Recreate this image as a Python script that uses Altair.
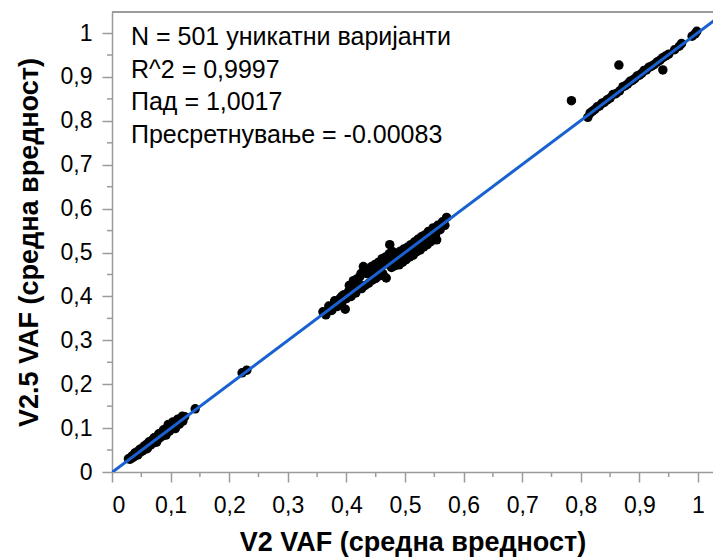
import altair as alt
import pandas as pd

# ---- data ----
low_x = [0.028, 0.031, 0.034, 0.036, 0.038, 0.040, 0.042, 0.044, 0.046, 0.048,
         0.050, 0.052, 0.054, 0.056, 0.058, 0.060, 0.062, 0.064, 0.066, 0.068,
         0.070, 0.072, 0.074, 0.076, 0.078, 0.080, 0.082, 0.084, 0.086, 0.088,
         0.090, 0.092, 0.094, 0.096, 0.098, 0.100, 0.103, 0.106, 0.109, 0.112,
         0.115, 0.118, 0.121, 0.124, 0.142, 0.222, 0.230]
low_y = [0.030, 0.029, 0.036, 0.033, 0.041, 0.037, 0.045, 0.040, 0.049, 0.045,
         0.053, 0.048, 0.057, 0.052, 0.055, 0.064, 0.058, 0.068, 0.062, 0.072,
         0.066, 0.077, 0.070, 0.080, 0.074, 0.085, 0.078, 0.089, 0.082, 0.094,
         0.086, 0.098, 0.090, 0.108, 0.093, 0.104, 0.099, 0.112, 0.104, 0.115,
         0.109, 0.122, 0.116, 0.126, 0.144, 0.226, 0.232]
low2_x = [0.040, 0.048, 0.056, 0.064, 0.072, 0.080, 0.088, 0.096, 0.104, 0.112,
          0.120, 0.044, 0.060, 0.076, 0.092, 0.108]
low2_y = [0.044, 0.052, 0.060, 0.069, 0.078, 0.087, 0.096, 0.106, 0.114, 0.120,
          0.127, 0.039, 0.053, 0.068, 0.084, 0.099]

mid_x = [0.360, 0.365, 0.370, 0.375, 0.380, 0.384, 0.388, 0.392, 0.396, 0.398,
         0.400, 0.404, 0.408, 0.412, 0.416, 0.420, 0.423, 0.426, 0.429, 0.432,
         0.435, 0.438, 0.441, 0.444, 0.447, 0.450, 0.453, 0.456, 0.459, 0.462,
         0.465, 0.468, 0.471, 0.474, 0.477, 0.480, 0.483, 0.486, 0.489, 0.492,
         0.495, 0.498, 0.501, 0.504, 0.507, 0.510, 0.513, 0.516, 0.519, 0.522,
         0.525, 0.528, 0.531, 0.534, 0.537, 0.540, 0.544, 0.548, 0.552, 0.554,
         0.556, 0.560, 0.564, 0.568, 0.571]
mid_y = [0.365, 0.358, 0.378, 0.368, 0.386, 0.377, 0.394, 0.385, 0.404, 0.371,
         0.395, 0.412, 0.400, 0.420, 0.408, 0.432, 0.445, 0.418, 0.468, 0.425,
         0.452, 0.430, 0.460, 0.437, 0.462, 0.441, 0.470, 0.447, 0.474, 0.452,
         0.478, 0.442, 0.486, 0.518, 0.466, 0.492, 0.470, 0.497, 0.476, 0.503,
         0.482, 0.508, 0.488, 0.512, 0.494, 0.518, 0.500, 0.524, 0.505, 0.530,
         0.512, 0.536, 0.518, 0.540, 0.523, 0.548, 0.530, 0.556, 0.540, 0.529,
         0.562, 0.552, 0.570, 0.562, 0.580]
mid2_x = [0.405, 0.412, 0.418, 0.425, 0.431, 0.437, 0.443, 0.449, 0.455, 0.461,
          0.467, 0.473, 0.479, 0.490, 0.496, 0.502, 0.508, 0.514, 0.520, 0.526,
          0.532, 0.538, 0.544, 0.550, 0.380, 0.392, 0.446, 0.458, 0.470, 0.484,
          0.515, 0.545]
mid2_y = [0.425, 0.436, 0.440, 0.452, 0.456, 0.462, 0.468, 0.473, 0.478, 0.486,
          0.490, 0.497, 0.502, 0.472, 0.478, 0.484, 0.490, 0.494, 0.502, 0.506,
          0.513, 0.518, 0.525, 0.534, 0.390, 0.400, 0.450, 0.462, 0.474, 0.488,
          0.520, 0.550]

high_x = [0.784, 0.812, 0.816, 0.820, 0.824, 0.828, 0.832, 0.836, 0.840, 0.845,
          0.850, 0.855, 0.860, 0.865, 0.866, 0.872, 0.876, 0.880, 0.884, 0.888,
          0.892, 0.896, 0.900, 0.904, 0.908, 0.912, 0.916, 0.920, 0.925, 0.930,
          0.935, 0.940, 0.940, 0.945, 0.950, 0.960, 0.968, 0.972, 0.990, 0.995,
          0.998]
high_y = [0.846, 0.808, 0.818, 0.822, 0.826, 0.832, 0.834, 0.840, 0.842, 0.848,
          0.852, 0.860, 0.862, 0.927, 0.868, 0.878, 0.880, 0.884, 0.890, 0.892,
          0.896, 0.902, 0.904, 0.908, 0.915, 0.916, 0.922, 0.924, 0.928, 0.934,
          0.938, 0.916, 0.944, 0.948, 0.952, 0.962, 0.970, 0.976, 0.993, 0.998,
          1.004]

slope = 1.0017
intercept = -0.00083
line_x = [0.0, 1.03]

x_ticks = [0, 0.1, 0.2, 0.3, 0.4, 0.5, 0.6, 0.7, 0.8, 0.9, 1]
minor_ticks = [0.05, 0.15, 0.25, 0.35, 0.45, 0.55, 0.65, 0.75, 0.85, 0.95]

ann_lines = ["N = 501 уникатни варијанти", "R^2 = 0,9997", "Пад = 1,0017",
             "Пресретнување = -0.00083"]

# ---- build tables ----
all_x = low_x + low2_x + mid_x + mid2_x + high_x
all_y = low_y + low2_y + mid_y + mid2_y + high_y
pts = pd.DataFrame({"x": all_x, "y": all_y})
fit = pd.DataFrame({"x": line_x, "y": [slope * v + intercept for v in line_x]})
minor = pd.DataFrame({"v": minor_ticks})

W, H = 601, 460
GRAY = "#9b9b9b"
FONT = "Liberation Sans"

xs = alt.Scale(domain=[0, 1.0256], nice=False, zero=False)
ys = alt.Scale(domain=[0, 1.048], nice=False, zero=False)

label_expr = "replace(format(datum.value, '.1~f'), '.', ',')"

x_axis = alt.Axis(title="V2 VAF (средна вредност)", values=x_ticks, labelExpr=label_expr,
                  grid=False, titlePadding=12, labelPadding=12)
y_axis = alt.Axis(title="V2.5 VAF (средна вредност)", values=x_ticks, labelExpr=label_expr,
                  grid=False, titlePadding=17, labelPadding=10)

points = alt.Chart(pts).mark_circle(size=90, color="black", opacity=1).encode(
    x=alt.X("x:Q", scale=xs, axis=x_axis),
    y=alt.Y("y:Q", scale=ys, axis=y_axis),
)

line = alt.Chart(fit).mark_line(color="#1862cf", strokeWidth=3, clip=True).encode(
    x=alt.X("x:Q", scale=xs),
    y=alt.Y("y:Q", scale=ys),
)

minor_x = alt.Chart(minor).mark_rule(color=GRAY, strokeWidth=1.5).encode(
    x=alt.X("v:Q", scale=xs), y=alt.value(H), y2=alt.value(H + 5)
)
minor_y = alt.Chart(minor).mark_rule(color=GRAY, strokeWidth=1.5).encode(
    y=alt.Y("v:Q", scale=ys), x=alt.value(0), x2=alt.value(-5)
)
top_frame = alt.Chart(minor).mark_rule(color=GRAY, strokeWidth=1.5).encode(
    x=alt.value(0), x2=alt.value(W), y=alt.value(0)
)

annot = alt.Chart(pd.DataFrame({"a": [0]})).mark_text(
    text=ann_lines, align="left", baseline="top", fontSize=25, lineHeight=32.5,
    font=FONT, color="black"
).encode(x=alt.value(19), y=alt.value(13))

chart = alt.layer(points, line, minor_x, minor_y, top_frame, annot).properties(
    width=W, height=H,
    padding={"left": 104, "top": 4, "right": 0, "bottom": 85},
    autosize=alt.AutoSizeParams(type="none"),
).configure_view(stroke=None).configure_axis(
    domainColor=GRAY, domainWidth=1.5, tickColor=GRAY, tickWidth=1.5, tickSize=10,
    labelFont=FONT, labelFontSize=23, labelColor="black",
    titleFont=FONT, titleFontSize=27, titleFontWeight="bold", titleColor="black",
)

chart.save("out.html", embed_options={"renderer": "svg", "actions": False})
